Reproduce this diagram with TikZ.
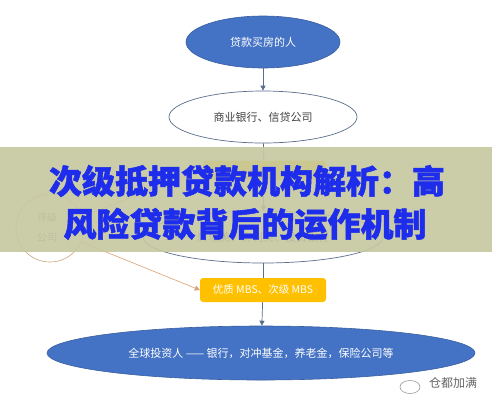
\documentclass[tikz,border=0pt]{standalone}
\usepackage{fontspec}
\usetikzlibrary{arrows.meta,shapes.geometric}
\newfontfamily\cjk{Noto Sans CJK SC}
\newfontfamily\cjktitle{Noto Sans CJK SC}[FakeBold=1.5]
\definecolor{obl}{HTML}{4472C4}
\definecolor{obldark}{HTML}{3A5F9F}
\definecolor{linec}{HTML}{5A6E8C}
\definecolor{gold}{HTML}{FFC000}
\definecolor{tan}{HTML}{C9A477}
\definecolor{orangeline}{HTML}{DDA070}
\definecolor{banner}{RGB}{198,200,160}
\definecolor{titleblue}{RGB}{30,45,235}
\tikzset{
  conn/.style={draw=linec, line width=0.7pt},
  arr/.style={conn, -{Triangle[length=5pt,width=5pt]}},
  blueell/.style={ellipse, fill=obl, draw=obldark, line width=0.6pt, text=white, font=\cjk\fontsize{11}{13}\selectfont, inner sep=0pt},
  whiteell/.style={ellipse, fill=white, draw=linec, line width=0.7pt, text=black!75, font=\cjk\fontsize{11}{13}\selectfont, inner sep=0pt},
  goldbox/.style={rectangle, rounded corners=3pt, fill=gold, draw=none, text=white, font=\cjk\fontsize{10.5}{12}\selectfont, inner sep=0pt},
  titletext/.style={text=titleblue, font=\cjktitle\bfseries\fontsize{33}{36}\selectfont, inner sep=0pt},
}
\begin{document}
\begin{tikzpicture}[x=1pt,y=-1pt]
\useasboundingbox (0,0) rectangle (492,400);
\fill[white] (0,0) rectangle (492,400);
% nodes
\node[blueell, minimum width=154pt, minimum height=52pt] (buyer) at (263,42) {贷款买房的人};
\node[whiteell, minimum width=188pt, minimum height=52pt] (bank) at (263,117) {商业银行、信贷公司};
\node[goldbox, minimum width=122pt, minimum height=19pt] (sub) at (264,170) {};
\node[whiteell, minimum width=240pt, minimum height=52pt] (gse) at (263,237) {\raisebox{-6pt}{房地美、房利美、投资银行}};
\node[goldbox, minimum width=126pt, minimum height=24pt] (mbs) at (263,290) {优质 MBS、次级 MBS};
\node[blueell, minimum width=428pt, minimum height=54pt] (inv) at (261,353) {全球投资人 —— 银行，对冲基金，养老金，保险公司等};
\node[circle, draw=tan, line width=0.6pt, fill=white, minimum size=68pt, inner sep=0pt] (rate) at (50,228) {};
\node[text=black!55, font=\cjk\fontsize{10}{20}\selectfont, align=left, anchor=west, inner sep=0pt] (ratetxt) at (37,228) {评级\\公司};
% connectors
\draw[arr] (buyer) -- (bank);
\draw[conn] (bank) -- (sub);
\draw[arr] (sub) -- (gse);
\draw[conn] (gse) -- (mbs);
\draw[arr] (mbs) -- (inv);
\draw[draw=orangeline, line width=0.6pt, -{Triangle[length=5pt,width=5pt]}] (rate.-24) -- (mbs.west);
\draw[draw=orangeline, line width=0.6pt, -{Triangle[length=5pt,width=5pt]}] (rate.20) -- (sub.west);
% banner
\fill[banner, opacity=0.9] (0,147) rectangle (492,252);
\node[titletext] (t1) at (247,181) {次级抵押贷款机构解析：高};
\node[titletext] (t2) at (245,224) {风险贷款背后的运作机制};
% watermark
\node[draw=black!40, line width=0.6pt, ellipse, minimum width=20pt, minimum height=13pt, inner sep=0pt] (logo) at (410,387) {};
\node[text=black!60, font=\cjk\fontsize{12}{14}\selectfont, inner sep=0pt] (wm) at (453,383) {仓都加满};
\end{tikzpicture}
\end{document}
